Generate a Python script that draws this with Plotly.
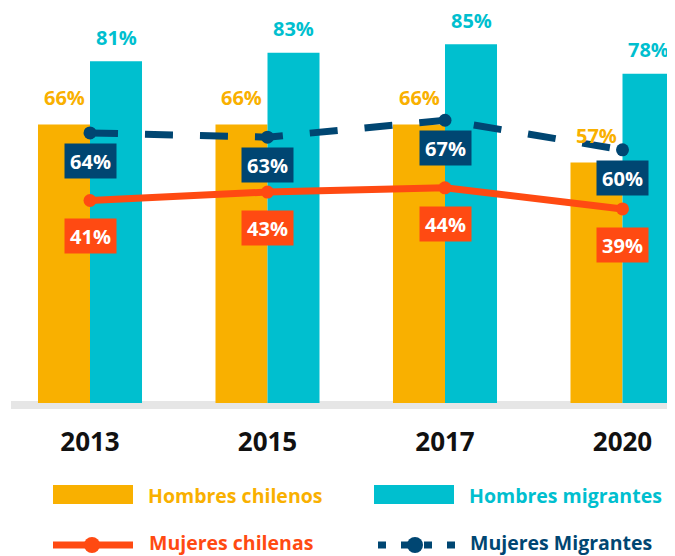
import plotly.graph_objects as go

# ---- data ----
years = ["2013", "2015", "2017", "2020"]
hombres_chilenos = [66, 66, 66, 57]
hombres_migrantes = [81, 83, 85, 78]
mujeres_chilenas = [41, 43, 44, 39]
mujeres_migrantes = [64, 63, 67, 60]

# ---- style ----
YELLOW = "#F9B000"
CYAN = "#00BFCF"
NAVY = "#004672"
ORANGE = "#FF4A12"
FONT = "Open Sans"

OFF = 8                      # page body margin
W, H = 675 - OFF, 556 - OFF  # figure size
PLOT_BOTTOM = 410            # page pixel of plot-area bottom
PLOT_H = PLOT_BOTTOM - OFF


def px(x):  # page pixel -> paper x
    return (x - OFF) / W


def py(y):  # page pixel -> paper y
    return (PLOT_BOTTOM - y) / PLOT_H


fig = go.Figure()
fig.add_trace(go.Bar(x=years, y=hombres_chilenos, name="Hombres chilenos",
                     marker=dict(color=YELLOW, line=dict(width=0))))
fig.add_trace(go.Bar(x=years, y=hombres_migrantes, name="Hombres migrantes",
                     marker=dict(color=CYAN, line=dict(width=0))))
fig.add_trace(go.Scatter(x=years, y=mujeres_migrantes, name="Mujeres Migrantes",
                         mode="lines+markers", yaxis="y",
                         line=dict(color=NAVY, width=7, dash="28px,27px"),
                         marker=dict(size=13, color=NAVY)))
fig.add_trace(go.Scatter(x=years, y=mujeres_chilenas, name="Mujeres chilenas",
                         mode="lines+markers", yaxis="y2",
                         line=dict(color=ORANGE, width=7),
                         marker=dict(size=13, color=ORANGE)))

ann = []
# bar value labels (x given as category index)
for i, v in enumerate(hombres_chilenos):
    ann.append(dict(x=i, y=v, xref="x", yref="y", text=f"{v}%", showarrow=False,
                    xshift=-26, yshift=27, yanchor="middle",
                    font=dict(family=FONT, size=20, color=YELLOW, weight=700)))
for i, v in enumerate(hombres_migrantes):
    ann.append(dict(x=i, y=v, xref="x", yref="y", text=f"{v}%", showarrow=False,
                    xshift=26, yshift=24, yanchor="middle",
                    font=dict(family=FONT, size=20, color=CYAN, weight=700)))
# line labels (boxes)
for i, v in enumerate(mujeres_migrantes):
    ann.append(dict(x=i, y=v, xref="x", yref="y", text=f"{v}%", showarrow=False,
                    yshift=-28, yanchor="middle", bgcolor=NAVY, width=51, height=34,
                    borderpad=0,
                    font=dict(family=FONT, size=20, color="white", weight=700)))
for i, v in enumerate(mujeres_chilenas):
    ann.append(dict(x=i, y=v, xref="x", yref="y2", text=f"{v}%", showarrow=False,
                    yshift=-36, yanchor="middle", bgcolor=ORANGE, width=51, height=34,
                    borderpad=0,
                    font=dict(family=FONT, size=20, color="white", weight=700)))

# baseline band and manual legend
shapes = []
shapes.append(dict(type="rect", xref="paper", yref="paper", layer="below",
                   x0=px(11), x1=1, y0=py(409), y1=py(401),
                   fillcolor="#E6E6E6", line=dict(width=0)))
shapes.append(dict(type="rect", xref="paper", yref="paper",
                   x0=px(53), x1=px(133), y0=py(504), y1=py(485),
                   fillcolor=YELLOW, line=dict(width=0)))
shapes.append(dict(type="rect", xref="paper", yref="paper",
                   x0=px(374), x1=px(454), y0=py(504), y1=py(485),
                   fillcolor=CYAN, line=dict(width=0)))
shapes.append(dict(type="line", xref="paper", yref="paper",
                   x0=px(53), x1=px(133), y0=py(545), y1=py(545),
                   line=dict(color=ORANGE, width=7)))
shapes.append(dict(type="circle", xref="paper", yref="paper",
                   x0=px(84), x1=px(100), y0=py(553), y1=py(537),
                   fillcolor=ORANGE, line=dict(width=0)))
shapes.append(dict(type="line", xref="paper", yref="paper",
                   x0=px(378), x1=px(455), y0=py(545), y1=py(545),
                   line=dict(color=NAVY, width=7, dash="8px,15px")))
shapes.append(dict(type="circle", xref="paper", yref="paper",
                   x0=px(407), x1=px(423), y0=py(553), y1=py(537),
                   fillcolor=NAVY, line=dict(width=0)))

legend_items = [("Hombres chilenos", YELLOW, 146, 495),
                ("Hombres migrantes", CYAN, 467, 495),
                ("Mujeres chilenas", ORANGE, 147, 542),
                ("Mujeres Migrantes", NAVY, 468, 542)]
for txt, col, x0, yc in legend_items:
    ann.append(dict(x=px(x0), y=py(yc), xref="paper", yref="paper", text=txt,
                    showarrow=False, xanchor="left", yanchor="middle",
                    font=dict(family=FONT, size=19.5, color=col, weight=700)))

cat_px = 177.5  # pixels per category
fig.update_layout(
    width=W, height=H,
    margin=dict(l=0, r=0, t=0, b=H - PLOT_H, pad=0),
    paper_bgcolor="white", plot_bgcolor="white",
    barmode="group", bargap=0.414, bargroupgap=0,
    showlegend=False,
    xaxis=dict(type="category", range=[(OFF - 90) / cat_px, (675 - 90) / cat_px],
               showgrid=False, zeroline=False, showline=False, ticks="",
               ticklabelstandoff=14,
               tickfont=dict(family=FONT, size=26, color="#111111", weight=700)),
    yaxis=dict(range=[(403 - PLOT_BOTTOM) / 4.22, (403 - OFF) / 4.22],
               visible=False, showgrid=False, zeroline=False),
    yaxis2=dict(range=[(373.5 - PLOT_BOTTOM) / 4.22, (373.5 - OFF) / 4.22],
                overlaying="y", visible=False, showgrid=False, zeroline=False),
    annotations=ann,
    shapes=shapes,
)

fig.write_html("out.html")
